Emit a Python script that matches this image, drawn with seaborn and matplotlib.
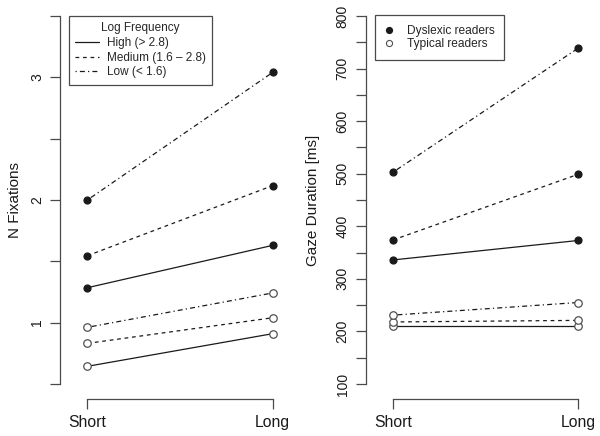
import matplotlib
matplotlib.use("Agg")
import matplotlib.pyplot as plt
from matplotlib.lines import Line2D
import seaborn as sns
import pandas as pd

# ---- data ----
conditions = ["Short", "Long"]
freq_levels = ["High (> 2.8)", "Medium (1.6 \u2013 2.8)", "Low (< 1.6)"]
groups = ["Dyslexic readers", "Typical readers"]

fix_dyslexic_high = [1.285, 1.63]
fix_dyslexic_medium = [1.546, 2.117]
fix_dyslexic_low = [2.00, 3.04]
fix_typical_high = [0.644, 0.91]
fix_typical_medium = [0.831, 1.04]
fix_typical_low = [0.962, 1.242]

gaze_dyslexic_high = [336, 373]
gaze_dyslexic_medium = [374, 499]
gaze_dyslexic_low = [503, 739]
gaze_typical_high = [211, 211]
gaze_typical_medium = [218, 221]
gaze_typical_low = [231, 255]

fix_ticks = [0.5, 1, 1.5, 2, 2.5, 3, 3.5]
fix_ticklabels = ["", "1", "", "2", "", "3", ""]
gaze_ticks = [100, 150, 200, 250, 300, 350, 400, 450, 500, 550, 600, 650, 700, 750, 800]
gaze_ticklabels = [str(t) if t % 100 == 0 else "" for t in gaze_ticks]

rows = []
fix_vals = {("Dyslexic readers", 0): fix_dyslexic_high, ("Dyslexic readers", 1): fix_dyslexic_medium,
            ("Dyslexic readers", 2): fix_dyslexic_low, ("Typical readers", 0): fix_typical_high,
            ("Typical readers", 1): fix_typical_medium, ("Typical readers", 2): fix_typical_low}
gaze_vals = {("Dyslexic readers", 0): gaze_dyslexic_high, ("Dyslexic readers", 1): gaze_dyslexic_medium,
             ("Dyslexic readers", 2): gaze_dyslexic_low, ("Typical readers", 0): gaze_typical_high,
             ("Typical readers", 1): gaze_typical_medium, ("Typical readers", 2): gaze_typical_low}
for (g, fi), vals in fix_vals.items():
    for ci, v in enumerate(vals):
        rows.append(dict(group=g, freq=freq_levels[fi], pos=ci + 1, measure="fix", value=v))
for (g, fi), vals in gaze_vals.items():
    for ci, v in enumerate(vals):
        rows.append(dict(group=g, freq=freq_levels[fi], pos=ci + 1, measure="gaze", value=v))
df = pd.DataFrame(rows)

# ---- style ----
sns.set_theme(style="ticks")
plt.rcParams["font.family"] = ["Liberation Sans", "DejaVu Sans"]

axis_col = "#4a4a4a"
line_col = "#1a1a1a"
open_edge = "#505050"
text_col = "#1a1a1a"

linestyles = {
    freq_levels[0]: "-",
    freq_levels[1]: (0, (3, 3)),
    freq_levels[2]: (0, (1, 2.5, 4, 2.5)),
}

W, H = 600, 436
fig = plt.figure(figsize=(W / 100, H / 100), dpi=100)

def px_axes(left, top, right, bottom):
    return fig.add_axes([left / W, 1 - bottom / H, (right - left) / W, (bottom - top) / H])

ax1 = px_axes(60, 1.3, 300, 398.7)
ax2 = px_axes(365.7, 1.3, 605.7, 398.7)

def draw(ax, measure):
    sub = df[df.measure == measure]
    for g in groups:
        for f in freq_levels:
            d = sub[(sub.group == g) & (sub.freq == f)]
            filled = g == groups[0]
            sns.lineplot(data=d, x="pos", y="value", ax=ax, estimator=None, sort=False,
                         color=line_col, linewidth=0.9, linestyle=linestyles[f],
                         marker="o", markersize=5.0 if filled else 5.4,
                         markerfacecolor=line_col if filled else "white",
                         markeredgecolor=line_col if filled else open_edge,
                         markeredgewidth=0.9, zorder=3)

draw(ax1, "fix")
draw(ax2, "gaze")

def style_axis(ax, yticks, yticklabels, ylo, yhi, ylabel, ylabel_x):
    pad = 0.04 * (yhi - ylo)
    ax.set_ylim(ylo - pad, yhi + pad)
    ax.set_xlim(0.852, 2.148)
    ax.set_yticks(yticks)
    ax.set_yticklabels(yticklabels, rotation=90, va="center", fontsize=10, color=text_col)
    ax.set_xticks([1, 2])
    ax.set_xticklabels(conditions, fontsize=11.3, color=text_col)
    for s in ["top", "right"]:
        ax.spines[s].set_visible(False)
    ax.spines["left"].set_bounds(ylo, yhi)
    ax.spines["bottom"].set_bounds(1, 2)
    for s in ["left", "bottom"]:
        ax.spines[s].set_color(axis_col)
        ax.spines[s].set_linewidth(0.9)
    ax.tick_params(axis="both", direction="out", length=7, width=0.9, color=axis_col)
    ax.tick_params(axis="y", pad=4.5)
    ax.tick_params(axis="x", pad=4.5)
    ax.set_xlabel("")
    ax.set_ylabel(ylabel, fontsize=11, color=text_col)
    ax.yaxis.set_label_coords(ylabel_x, 0.5)
    ax.patch.set_alpha(0)

style_axis(ax1, fix_ticks, fix_ticklabels, 0.5, 3.5, "N Fixations", -0.158)
style_axis(ax2, gaze_ticks, gaze_ticklabels, 100, 800, "Gaze Duration [ms]", -0.19)

# legends
freq_handles = [Line2D([], [], color=line_col, linewidth=0.9, linestyle=linestyles[f]) for f in freq_levels]
leg1 = ax1.legend(freq_handles, freq_levels, title="Log Frequency", loc="upper left",
                  bbox_to_anchor=(0.0375, 0.963), borderaxespad=0, fontsize=8.5,
                  title_fontsize=8.5, handlelength=2.0, handletextpad=0.65,
                  labelspacing=0.22, borderpad=0.55, fancybox=False, framealpha=1,
                  edgecolor=axis_col)
leg1.get_frame().set_linewidth(0.9)

group_handles = [
    Line2D([], [], linestyle="none", marker="o", markersize=4.2, markerfacecolor=line_col,
           markeredgecolor=line_col),
    Line2D([], [], linestyle="none", marker="o", markersize=4.4, markerfacecolor="white",
           markeredgecolor=open_edge, markeredgewidth=0.8),
]
leg2 = ax2.legend(group_handles, groups, loc="upper left", bbox_to_anchor=(0.0375, 0.965),
                  borderaxespad=0, fontsize=8.6, handlelength=0.8, handletextpad=1.1,
                  labelspacing=0.1, borderpad=0.8, fancybox=False, framealpha=1,
                  edgecolor=axis_col)
leg2.get_frame().set_linewidth(0.9)

fig.savefig("out.png", dpi=100, facecolor="white")
